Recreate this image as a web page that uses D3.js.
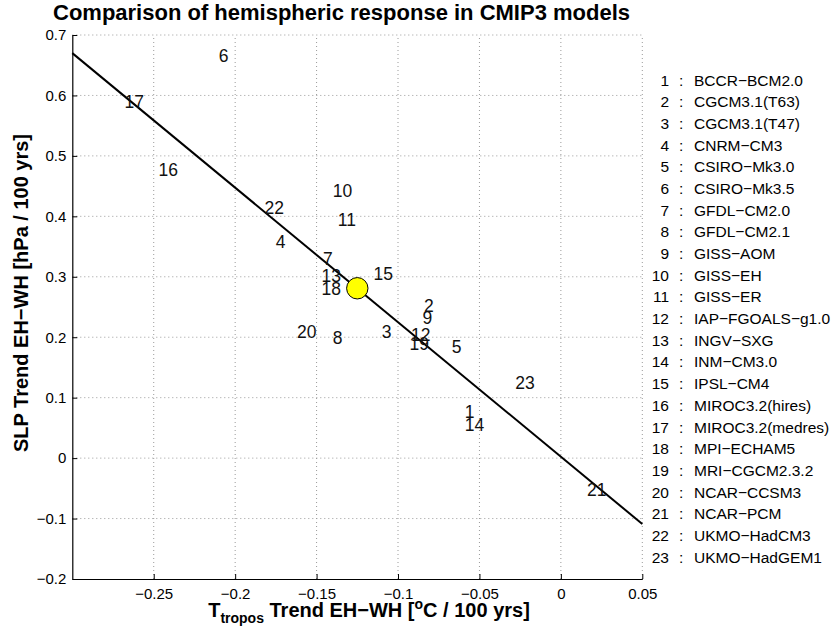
<!DOCTYPE html>
<html><head><meta charset="utf-8">
<script src="https://cdn.jsdelivr.net/npm/d3@7"></script>
<style>
html,body{margin:0;padding:0;background:#fff;}
svg text{font-family:"Liberation Sans",Arial,Helvetica,sans-serif;}
</style></head>
<body><svg id="chart" width="832" height="630"></svg>
<script>
// ---- data ----
const modelIds = [1,2,3,4,5,6,7,8,9,10,11,12,13,14,15,16,17,18,19,20,21,22,23];
const modelNames = ["BCCR−BCM2.0","CGCM3.1(T63)","CGCM3.1(T47)","CNRM−CM3","CSIRO−Mk3.0","CSIRO−Mk3.5",
  "GFDL−CM2.0","GFDL−CM2.1","GISS−AOM","GISS−EH","GISS−ER","IAP−FGOALS−g1.0","INGV−SXG","INM−CM3.0",
  "IPSL−CM4","MIROC3.2(hires)","MIROC3.2(medres)","MPI−ECHAM5","MRI−CGCM2.3.2","NCAR−CCSM3","NCAR−PCM",
  "UKMO−HadCM3","UKMO−HadGEM1"];
const tTrend = [-0.059,-0.084,-0.110,-0.175,-0.067,-0.210,-0.146,-0.140,-0.085,-0.140,-0.137,-0.092,-0.147,
  -0.059,-0.115,-0.247,-0.268,-0.147,-0.093,-0.162,0.016,-0.182,-0.028];
const slpTrend = [0.077,0.252,0.209,0.358,0.185,0.665,0.330,0.199,0.232,0.442,0.394,0.204,0.301,0.055,0.305,
  0.477,0.590,0.281,0.190,0.209,-0.053,0.414,0.124];
const meanPoint = [-0.125, 0.281];
const fitLine = [[-0.3, 0.670], [0.05, -0.109]];
const xTicks = [-0.25,-0.2,-0.15,-0.1,-0.05,0,0.05];
const yTicks = [-0.2,-0.1,0,0.1,0.2,0.3,0.4,0.5,0.6,0.7];
const xDomain = [-0.3, 0.05];
const yDomain = [-0.2, 0.7];

// ---- drawing ----
const svg = d3.select("#chart");
const x = d3.scaleLinear().domain(xDomain).range([72.3, 642.3]);
const y = d3.scaleLinear().domain(yDomain).range([579, 35]);
const fmt = v => String(v).replace("-", "−");

// grid
const grid = svg.append("g").attr("stroke", "#9a9a9a").attr("stroke-width", 1).attr("stroke-dasharray", "1,3");
grid.selectAll(".gx").data(xTicks).join("line")
  .attr("x1", d => x(d)).attr("x2", d => x(d)).attr("y1", y(yDomain[0])).attr("y2", y(yDomain[1]));
grid.selectAll(".gy").data(yTicks.filter(d => d !== yDomain[0])).join("line")
  .attr("y1", d => y(d)).attr("y2", d => y(d)).attr("x1", x(xDomain[0])).attr("x2", x(xDomain[1]));

// fit line
svg.append("path").datum(fitLine)
  .attr("d", d3.line().x(d => x(d[0])).y(d => y(d[1])))
  .attr("fill", "none").attr("stroke", "#000").attr("stroke-width", 2);

// axes
const xAxis = svg.append("g").attr("transform", `translate(0,${y(yDomain[0])})`)
  .call(d3.axisBottom(x).tickValues(xTicks).tickFormat(fmt).tickSizeInner(-5).tickSizeOuter(0).tickPadding(9));
const yAxis = svg.append("g").attr("transform", `translate(${x(xDomain[0])},0)`)
  .call(d3.axisLeft(y).tickValues(yTicks).tickFormat(fmt).tickSizeInner(-5).tickSizeOuter(0).tickPadding(6));
[xAxis, yAxis].forEach(a => {
  a.selectAll("text").attr("font-size", 15).attr("fill", "#000")
    .style("font-family", '"Liberation Sans",Arial,sans-serif');
  a.select(".domain").attr("stroke", "#000").attr("stroke-width", 1.2);
  a.selectAll(".tick line").attr("stroke", "#000");
});

// model number labels
const lblSize = 17.5;
svg.append("g").selectAll("text").data(modelIds).join("text")
  .attr("x", (d, i) => x(tTrend[i]))
  .attr("y", (d, i) => y(slpTrend[i]) + 0.36 * lblSize)
  .attr("font-size", lblSize).attr("fill", "#111")
  .text(d => d);

// mean marker
svg.append("circle").attr("cx", x(meanPoint[0])).attr("cy", y(meanPoint[1])).attr("r", 10.7)
  .attr("fill", "#ffff00").attr("stroke", "#000").attr("stroke-width", 1);

// legend
const ly = d3.scalePoint().domain(modelIds).range([80, 557]);
const leg = svg.append("g").attr("font-size", 15.5).attr("fill", "#000");
leg.selectAll(".n").data(modelIds).join("text").attr("text-anchor", "end")
  .attr("x", 669).attr("y", d => ly(d) + 5.6).text(d => d);
leg.selectAll(".c").data(modelIds).join("text")
  .attr("x", 679).attr("y", d => ly(d) + 5.6).text(":");
leg.selectAll(".m").data(modelIds).join("text")
  .attr("x", 694).attr("y", d => ly(d) + 5.6).text((d, i) => modelNames[i]);

// title
svg.append("text").attr("x", 53).attr("y", 20).attr("font-size", 22).attr("font-weight", "bold")
  .text("Comparison of hemispheric response in CMIP3 models");

// x label
const xl = svg.append("text").attr("x", 369).attr("y", 617).attr("text-anchor", "middle")
  .attr("font-size", 20).attr("font-weight", "bold");
xl.append("tspan").text("T");
xl.append("tspan").attr("font-size", 14).attr("dy", 6).text("tropos");
xl.append("tspan").attr("dy", -6).text(" Trend EH−WH [");
xl.append("tspan").attr("font-size", 14).attr("dy", -8).text("o");
xl.append("tspan").attr("dy", 8).text("C / 100 yrs]");

// y label
svg.append("text").attr("transform", "translate(28,293) rotate(-90)").attr("text-anchor", "middle")
  .attr("font-size", 20).attr("font-weight", "bold")
  .text("SLP Trend EH−WH [hPa / 100 yrs]");
</script></body></html>
